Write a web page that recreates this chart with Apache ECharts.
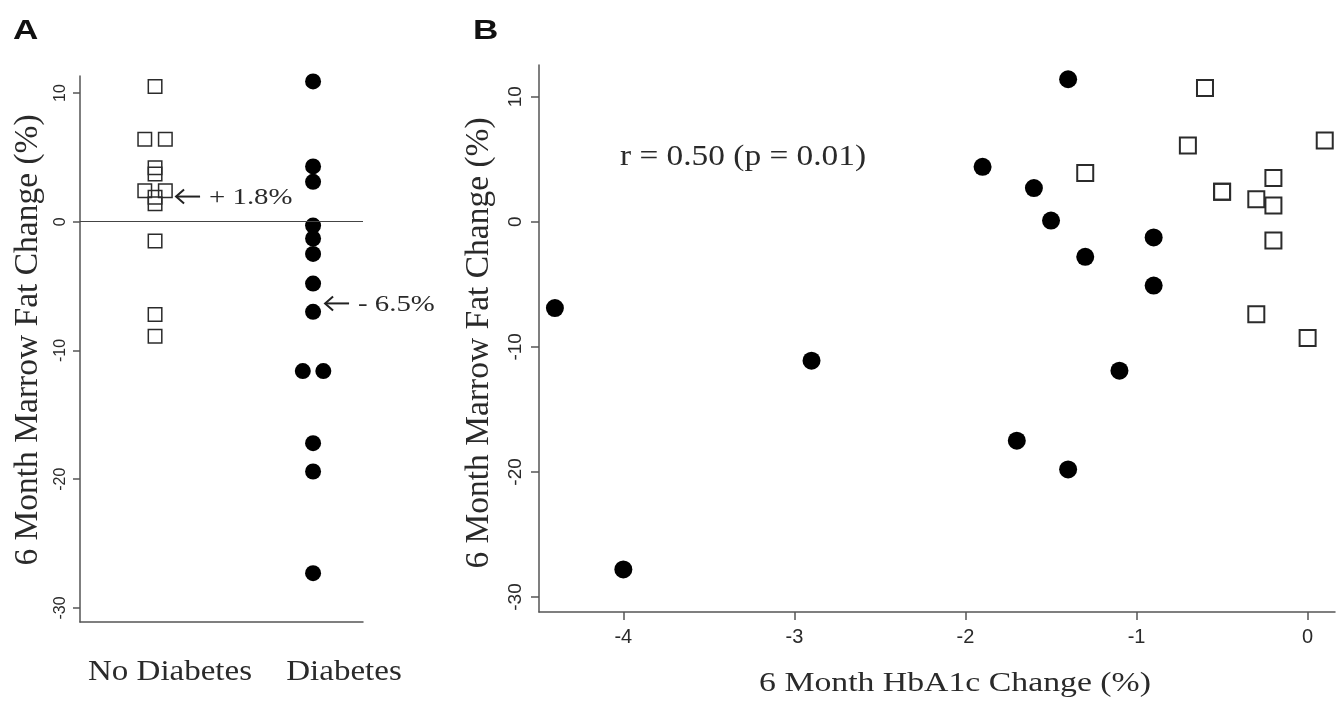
<!DOCTYPE html>
<html>
<head>
<meta charset="utf-8">
<title>Marrow fat change</title>
<script src="https://cdn.jsdelivr.net/npm/echarts@6.0.0/dist/echarts.min.js"></script>
<style>
  html, body { margin: 0; padding: 0; background: #fff; }
  #chart { width: 1344px; height: 704px; }
</style>
</head>
<body>
<div id="chart"></div>
<script>
// panel A: 6 month marrow fat change per group (side = -1/0/1 nudge off the group column)
const groupNames = ['No Diabetes', 'Diabetes'];
const noDiabFat = [10.5, 6.4, 6.4, 4.2, 3.7, 2.4, 2.4, 1.9, 1.4, -1.5, -7.2, -8.9];
const noDiabSide = [0, -1, 1, 0, 0, -1, 1, 0, 0, 0, 0, 0];
const diabFat = [10.9, 4.3, 3.1, -0.3, -1.3, -2.5, -4.8, -7.0, -11.6, -11.6, -17.2, -19.4, -27.3];
const diabSide = [0, 0, 0, 0, 0, 0, 0, 0, -1, 1, 0, 0, 0];
const meanLabels = ['+ 1.8%', '- 6.5%'];
const meanValues = [1.8, -6.5];

// panel B: HbA1c change vs marrow fat change
const noDiabHbA1c = [-0.6, 0.1, -0.7, -1.3, -0.2, -0.5, -0.5, -0.3, -0.2, -0.2, -0.3, 0.0];
const noDiabFatB = [10.7, 6.5, 6.1, 3.9, 3.5, 2.4, 2.4, 1.8, 1.3, -1.5, -7.4, -9.3];
const diabHbA1c = [-1.4, -1.9, -1.6, -1.5, -0.9, -1.3, -0.9, -2.9, -1.1, -1.7, -1.4, -4.0, -4.4];
const diabFatB = [11.4, 4.4, 2.7, 0.1, -1.25, -2.8, -5.1, -11.1, -11.9, -17.5, -19.8, -27.8, -6.9];

const fatTicks = [-30, -20, -10, 0, 10];
const hba1cTicks = [-4, -3, -2, -1, 0];
const corrText = 'r = 0.50 (p = 0.01)';

const SERIF = '"Liberation Serif", "Times New Roman", "DejaVu Serif", serif';
const SANS = '"Liberation Sans", Arial, sans-serif';
const AXIS_COLOR = '#555';
const JITTER = 0.065;

const chart = echarts.init(document.getElementById('chart'));

function axisBase(extra) {
  return Object.assign({
    type: 'value',
    axisLine: {show: true, onZero: false, lineStyle: {color: AXIS_COLOR, width: 1.5}},
    splitLine: {show: false}
  }, extra);
}

const squareStyle = (w) => ({color: 'rgba(0,0,0,0)', borderColor: '#2b2b2b', borderWidth: w, opacity: 1});
const dotStyle = {color: '#000', opacity: 1};

const option = {
  backgroundColor: '#fff',
  animation: false,
  grid: [
    {left: 80, top: 76, width: 283, height: 546},
    {left: 539, top: 65, width: 796, height: 547}
  ],
  xAxis: [
    axisBase({
      gridIndex: 0, min: 0.525, max: 2.316,
      axisTick: {show: false}, axisLabel: {show: false}
    }),
    axisBase({
      gridIndex: 1, min: -4.493, max: 0.16,
      axisTick: {show: true, length: 8, customValues: hba1cTicks, lineStyle: {color: AXIS_COLOR, width: 1.5}},
      axisLabel: {customValues: hba1cTicks, margin: 15, fontSize: 20, fontFamily: SANS, color: '#2a2a2a'}
    })
  ],
  yAxis: [
    axisBase({
      gridIndex: 0, min: -31.09, max: 11.32,
      axisTick: {show: true, length: 7, customValues: fatTicks, lineStyle: {color: AXIS_COLOR, width: 1.5}},
      axisLabel: {customValues: fatTicks, rotate: 90, margin: 11, fontSize: 16, fontFamily: SANS, color: '#2a2a2a'}
    }),
    axisBase({
      gridIndex: 1, min: -31.2, max: 12.54,
      axisTick: {show: true, length: 8, customValues: fatTicks, lineStyle: {color: AXIS_COLOR, width: 1.5}},
      axisLabel: {customValues: fatTicks, rotate: 90, margin: 14, fontSize: 19, fontFamily: SANS, color: '#2a2a2a'}
    })
  ],
  series: [
    {
      name: groupNames[0],
      type: 'scatter', xAxisIndex: 0, yAxisIndex: 0,
      symbol: 'rect', symbolSize: 13.5,
      itemStyle: squareStyle(1.5),
      data: noDiabFat.map((v, i) => [1 + noDiabSide[i] * JITTER, v]),
      markLine: {
        silent: true, symbol: 'none', label: {show: false},
        lineStyle: {color: '#444', width: 1.2, type: 'solid'},
        data: [{yAxis: 0}]
      }
    },
    {
      name: groupNames[1],
      type: 'scatter', xAxisIndex: 0, yAxisIndex: 0,
      symbol: 'circle', symbolSize: 16,
      itemStyle: dotStyle,
      data: diabFat.map((v, i) => [2 + diabSide[i] * JITTER, v])
    },
    {
      name: groupNames[0] + ' B',
      type: 'scatter', xAxisIndex: 1, yAxisIndex: 1,
      symbol: 'rect', symbolSize: 16,
      itemStyle: squareStyle(2),
      data: noDiabHbA1c.map((x, i) => [x, noDiabFatB[i]])
    },
    {
      name: groupNames[1] + ' B',
      type: 'scatter', xAxisIndex: 1, yAxisIndex: 1,
      symbol: 'circle', symbolSize: 18,
      itemStyle: dotStyle,
      data: diabHbA1c.map((x, i) => [x, diabFatB[i]])
    }
  ]
};

chart.setOption(option);

function txt(text, x, y, size, opts) {
  opts = opts || {};
  return {
    type: 'text', x: x, y: y,
    rotation: opts.rotation || 0,
    scaleX: opts.scaleX || 1,
    silent: true,
    style: {
      text: text,
      font: (opts.weight || 'normal') + ' ' + size + 'px ' + (opts.family || SERIF),
      fill: opts.color || '#2a2a2a',
      textAlign: opts.align || 'center',
      textVerticalAlign: 'middle',
      align: opts.align || 'center',
      verticalAlign: 'middle'
    }
  };
}

// left-pointing arrow with its tip at (x, y)
function arrow(x, y) {
  const ls = {stroke: '#222', lineWidth: 2, fill: null};
  return [
    {type: 'line', silent: true, shape: {x1: x, y1: y, x2: x + 24, y2: y}, style: ls},
    {type: 'polyline', silent: true, shape: {points: [[x + 8, y - 7], [x, y], [x + 8, y + 7]]}, style: ls}
  ];
}

// arrows pointing at the group means, next to each column
const meanPix = meanValues.map((v, i) => chart.convertToPixel({gridIndex: 0}, [i + 1, v]));
const arrowGap = [21, 12];

let graphics = [
  txt('A', 13, 32, 27, {family: SANS, weight: 'bold', align: 'left', scaleX: 1.3, color: '#111'}),
  txt('B', 473, 32, 27, {family: SANS, weight: 'bold', align: 'left', scaleX: 1.3, color: '#111'}),
  txt('6 Month Marrow Fat Change (%)', 28, 340, 33.5, {rotation: Math.PI / 2}),
  txt('6 Month Marrow Fat Change (%)', 479, 343, 33.5, {rotation: Math.PI / 2}),
  txt(groupNames[0], 170, 672, 30, {scaleX: 1.1}),
  txt(groupNames[1], 344, 672, 30, {scaleX: 1.1}),
  txt('6 Month HbA1c Change (%)', 955, 684, 27, {scaleX: 1.25}),
  txt(corrText, 620, 157, 29, {align: 'left', scaleX: 1.15})
];
meanPix.forEach((p, i) => {
  const tipX = p[0] + arrowGap[i];
  const tipY = p[1] - 2;
  graphics = graphics.concat(arrow(tipX, tipY));
  graphics.push(txt(meanLabels[i], tipX + 33, tipY + 1, 24, {align: 'left', scaleX: 1.2}));
});

chart.setOption({graphic: graphics});
</script>
</body>
</html>
